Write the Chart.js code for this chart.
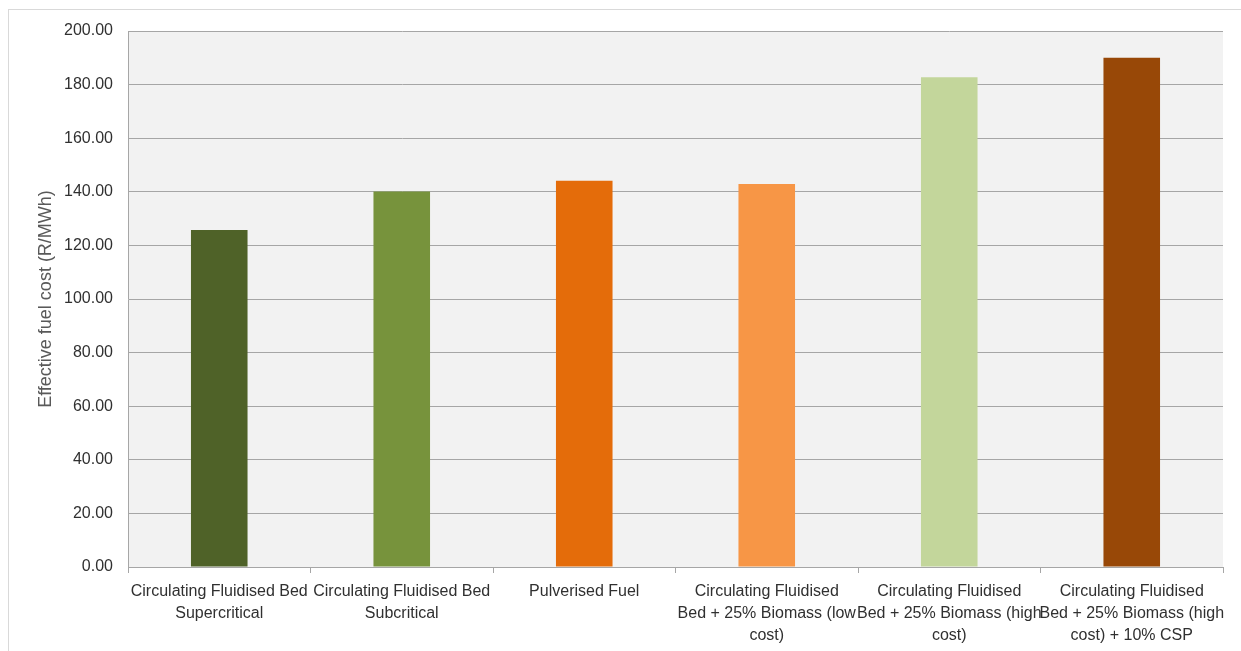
<!DOCTYPE html>
<html>
<head>
<meta charset="utf-8">
<script src="https://cdn.jsdelivr.net/npm/chart.js@4"></script>
<style>
  html, body { margin: 0; padding: 0; background: #ffffff; }
  #wrap { position: relative; width: 1241px; height: 651px; }
  #frame { position: absolute; left: 8px; top: 9px; width: 1240px; height: 660px; border: 1px solid #d9d9d9; box-sizing: border-box; pointer-events: none; }
  canvas { position: absolute; left: 0; top: 0; }
</style>
</head>
<body>
<div id="wrap">
  <div id="frame"></div>
  <canvas id="c" width="1241" height="651"></canvas>
</div>
<script>
// Technology options (multi-line category labels)
const categories = [
  ["Circulating Fluidised Bed", "Supercritical"],
  ["Circulating Fluidised Bed", "Subcritical"],
  ["Pulverised Fuel"],
  ["Circulating Fluidised", "Bed + 25% Biomass (low", "cost)"],
  ["Circulating Fluidised", "Bed + 25% Biomass (high", "cost)"],
  ["Circulating Fluidised", "Bed + 25% Biomass (high", "cost) + 10% CSP"]
];

// Effective fuel cost, R/MWh
const fuelCost = [125.7, 140.1, 144.1, 142.9, 182.7, 190.0];

const barColors = ["#4f6228", "#77933c", "#e46c0a", "#f79646", "#c3d69b", "#984807"];

const yTitle = "Effective fuel cost (R/MWh)";

const plotBackground = {
  id: "plotBackground",
  beforeDraw(chart) {
    const { ctx, chartArea: a } = chart;
    ctx.save();
    ctx.fillStyle = "#f2f2f2";
    ctx.fillRect(a.left, a.top, a.right - a.left, a.bottom - a.top);
    ctx.restore();
  }
};

const font = "'Liberation Sans', Arial, sans-serif";

new Chart(document.getElementById("c"), {
  type: "bar",
  data: {
    labels: categories,
    datasets: [{
      data: fuelCost,
      backgroundColor: barColors,
      borderWidth: 0,
      barPercentage: 0.62,
      categoryPercentage: 0.5
    }]
  },
  options: {
    responsive: false,
    animation: false,
    layout: { padding: { top: 31, right: 18, left: 31, bottom: 0 } },
    plugins: { legend: { display: false }, tooltip: { enabled: false } },
    scales: {
      x: {
        offset: true,
        grid: { offset: true, drawOnChartArea: false, color: "#a6a6a6", tickLength: 6 },
        border: { color: "#a6a6a6" },
        ticks: { color: "#303030", font: { family: font, size: 16, lineHeight: 1.375 }, maxRotation: 0, autoSkip: false, padding: 8 },
        afterFit(scale) { scale.height = 84; }
      },
      y: {
        min: 0,
        max: 200,
        ticks: { stepSize: 20, color: "#303030", font: { family: font, size: 16 }, padding: 15,
                 callback: v => Number(v).toFixed(2) },
        grid: { color: "#a6a6a6", drawTicks: false },
        border: { color: "#a6a6a6" },
        title: { display: true, text: yTitle, color: "#595959", font: { family: font, size: 18 } },
        afterFit(scale) { scale.width = 97; }
      }
    }
  },
  plugins: [plotBackground]
});
</script>
</body>
</html>
